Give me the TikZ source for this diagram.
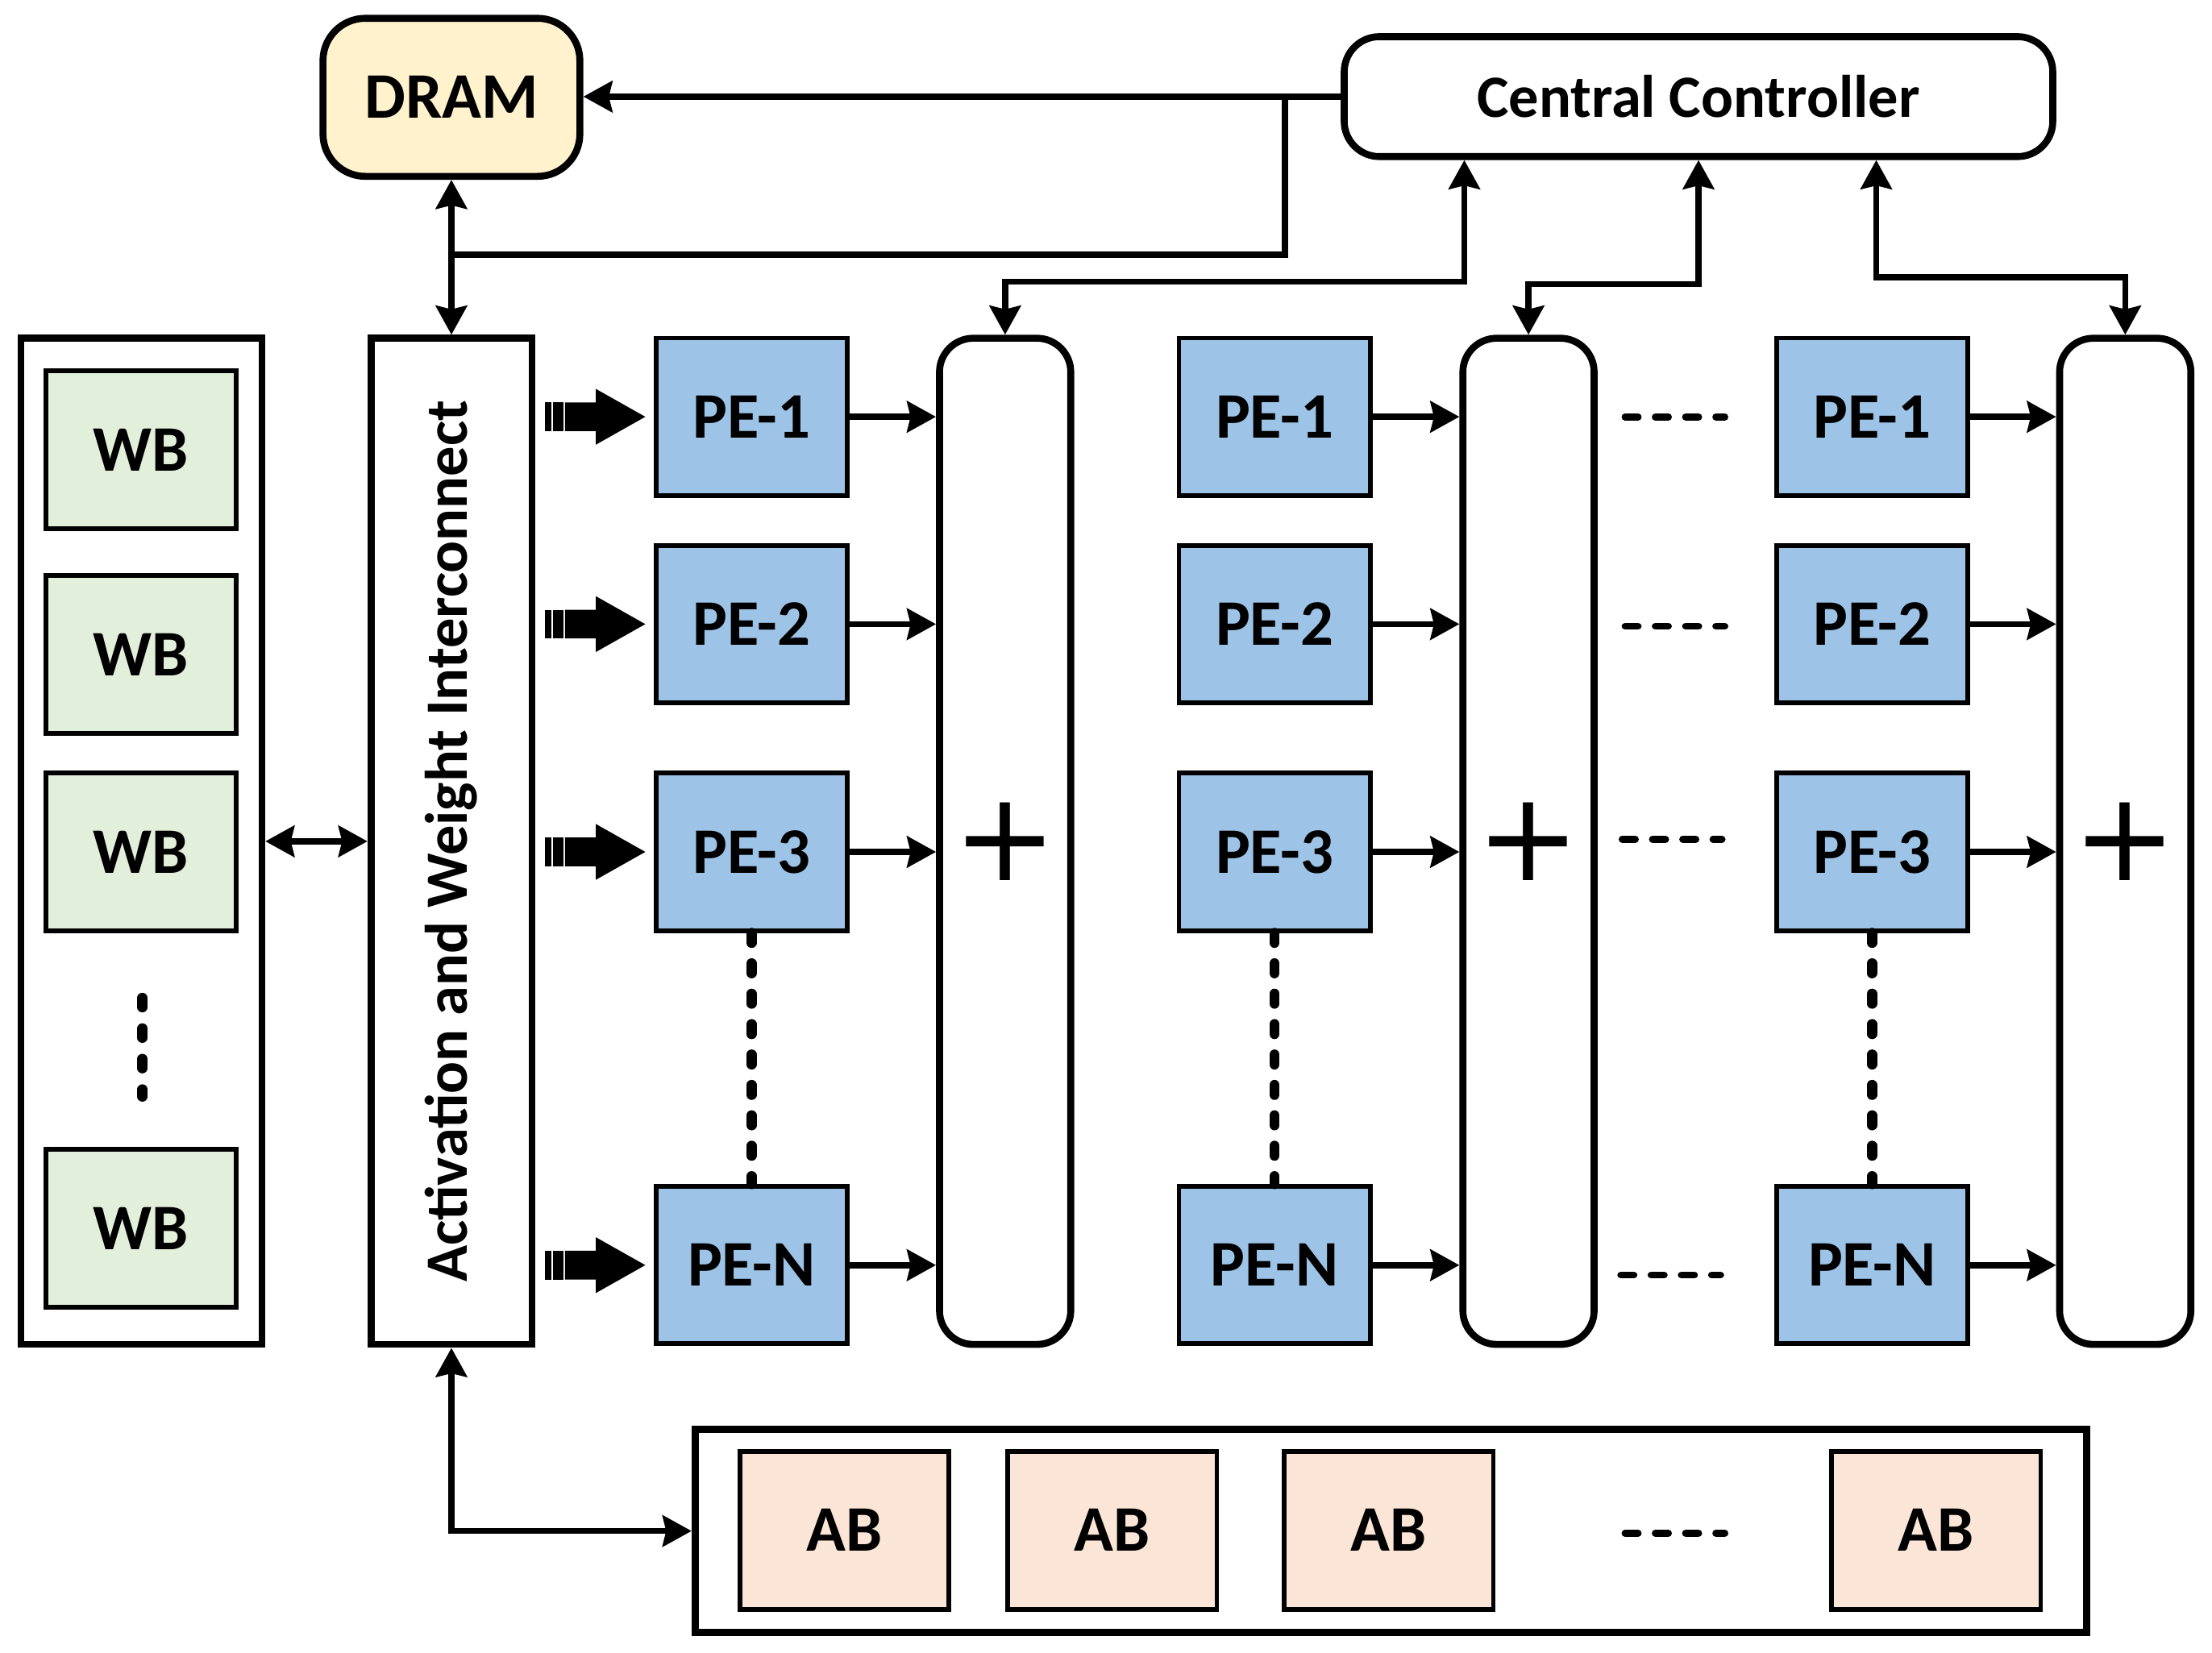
\documentclass[tikz,border=0pt]{standalone}
\usepackage{fontspec}
\setmainfont{Carlito}
\newfontfamily\plusfont{DejaVu Sans}
\usetikzlibrary{arrows.meta}
\definecolor{peblue}{HTML}{9DC3E6}
\definecolor{wbgreen}{HTML}{E2EFDA}
\definecolor{abpeach}{HTML}{FBE5D6}
\definecolor{dramyellow}{HTML}{FFF2CC}
\newcommand\feedarrow[1]{%
  \begin{scope}[shift={(#1.west)}]
    \fill (-77.1,-10.2) rectangle (-72.4,10.2);
    \fill (-71.4,-10.2) rectangle (-63.8,10.2);
    \fill (-62.8,-10.2) -- (-40.9,-10.2) -- (-40.9,-19.8) -- (-5.8,0)
          -- (-40.9,19.8) -- (-40.9,10.2) -- (-62.8,10.2) -- cycle;
  \end{scope}}
\begin{document}
\begin{tikzpicture}[x=0.01cm,y=-0.01cm,
  >={Stealth[length=0.205cm,width=0.22cm,inset=0.025cm]},
  outer/.style={draw,line width=1.4pt,inner sep=0pt},
  inner/.style={draw,line width=0.95pt,inner sep=0pt},
  lbl/.style={font=\fontsize{13.1}{15}\selectfont\bfseries},
  pe/.style={inner,lbl,fill=peblue,minimum width=1.355cm,minimum height=1.115cm},
  wb/.style={inner,lbl,fill=wbgreen,minimum width=1.35cm,minimum height=1.12cm},
  ab/.style={inner,lbl,fill=abpeach,minimum width=1.48cm,minimum height=1.12cm},
  adder/.style={outer,rounded corners=0.24cm,minimum width=0.93cm,minimum height=7.13cm,
    font=\plusfont\fontsize{25}{25}\selectfont},
  wire/.style={line width=1.25pt},
  dots/.style={line width=2.05pt,line cap=round,dash pattern=on 2pt off 4.13pt},
  hdots/.style={line width=1.45pt,line cap=round,dash pattern=on 2.6pt off 3.5pt}
]
\useasboundingbox (0,0) rectangle (1568,1172);

% top blocks
\node[outer,lbl,fill=dramyellow,rounded corners=0.3cm,minimum width=1.82cm,minimum height=1.12cm] (dram) at (320,69) {DRAM};
\node[outer,rounded corners=0.25cm,minimum width=5.02cm,minimum height=0.85cm,
  font=\fontsize{12.1}{14}\selectfont\bfseries] (cc) at (1204,68.5) {Central Controller};

% weight buffers
\node[outer,minimum width=1.708cm,minimum height=7.13cm] (wbc) at (100.2,596.5) {};
\node[wb] (wb1) at (100,319) {WB};
\node[wb] (wb2) at (100,464) {WB};
\node[wb] (wb3) at (100,604) {WB};
\node[wb] (wb4) at (100,871) {WB};
\coordinate (wbd1) at (101,707.5);
\coordinate (wbd2) at (101,777.5);
\draw[line width=2.05pt,line cap=round,dash pattern=on 1.9pt off 4.25pt] (wbd1) -- (wbd2);

% interconnect
\node[outer,rotate=90,minimum width=7.13cm,minimum height=1.14cm,
  font=\fontsize{12.1}{14}\selectfont\bfseries] (ic) at (320,596.5) {Activation and Weight Interconnect};

% PE columns
\foreach \c/\x in {1/532.7,2/903.5,3/1327}{
  \node[pe] (p\c1) at (\x,295.5) {PE-1};
  \node[pe] (p\c2) at (\x,442.5) {PE-2};
  \node[pe] (p\c3) at (\x,604) {PE-3};
  \node[pe] (p\c n) at (\x,897) {PE-N};
  \draw[dots] (p\c3.south) -- (p\c n.north);
}
\node[adder] (add1) at (712.5,596.5) {+};
\node[adder] (add2) at (1083.5,596.5) {+};
\node[adder] (add3) at (1506.5,596.5) {+};
\foreach \c in {1,2,3}{
  \foreach \r in {1,2,3,n}{
    \draw[wire,->] (p\c\r.east) -- (p\c\r.east -| add\c.west);
  }
}
\foreach \r in {1,2,3,n}{\feedarrow{p1\r}}

% ellipsis dashes between columns
\draw[hdots] (1152,295.6) -- (1222.6,295.6);
\draw[hdots] (1152,444) -- (1222.6,444);
\draw[hdots] (1150,595) -- (1220.6,595);
\draw[hdots] (1149,904) -- (1219.6,904);

% activation buffers
\node[outer,minimum width=9.86cm,minimum height=1.44cm] (abc) at (986,1085.5) {};
\node[ab] (ab1) at (598.5,1085) {AB};
\node[ab] (ab2) at (788.5,1085) {AB};
\node[ab] (ab3) at (984.5,1085) {AB};
\node[ab] (ab4) at (1372.5,1085) {AB};
\draw[hdots] (1152,1087) -- (1222.6,1087);

% connectors
\draw[wire,->] (cc.west) -- (cc.west -| dram.east);
\coordinate (tap) at (911,68.5);
\coordinate (join) at (320,180.7);
\draw[wire] (tap) |- (join);
\draw[wire,<->] (dram.south) -- (ic.east);
\coordinate (c1) at (1038,199.7);
\coordinate (c2) at (1204,201.5);
\coordinate (c3) at (1330,196.6);
\draw[wire,<->] (c1 |- cc.south) -- (c1) -| (add1.north);
\draw[wire,<->] (c2 |- cc.south) -- (c2) -| (add2.north);
\draw[wire,<->] (c3 |- cc.south) -- (c3) -| (add3.north);
\draw[wire,<->] (wbc.east) -- (ic.north);
\draw[wire,<->] (ic.west) |- (abc.west);
\end{tikzpicture}
\end{document}
